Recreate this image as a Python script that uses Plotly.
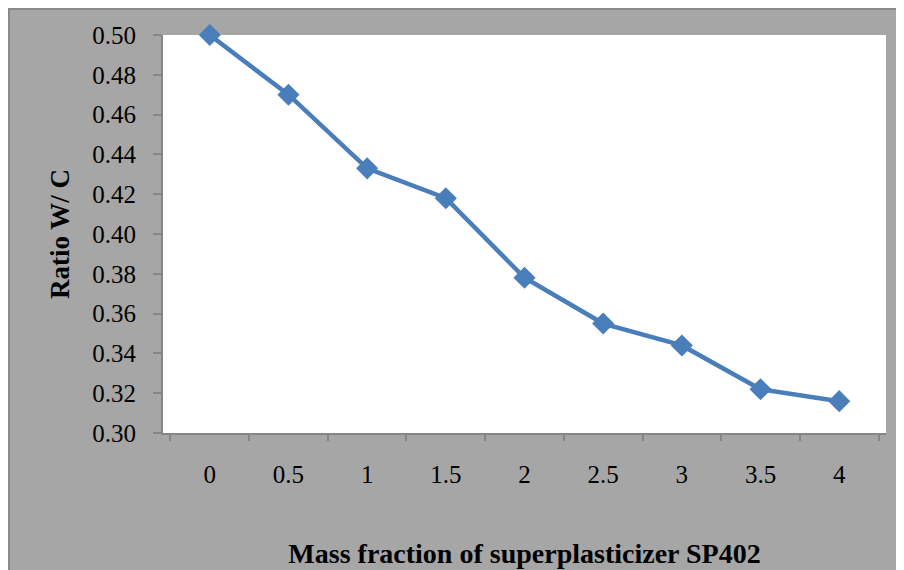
import plotly.graph_objects as go

# data
mass_fraction = ["0", "0.5", "1", "1.5", "2", "2.5", "3", "3.5", "4"]
ratio_wc = [0.500, 0.470, 0.433, 0.418, 0.378, 0.355, 0.344, 0.322, 0.316]
y_ticks = [0.30, 0.32, 0.34, 0.36, 0.38, 0.40, 0.42, 0.44, 0.46, 0.48, 0.50]

BG = "#a6a6a6"
AXIS = "#868686"
LINE = "#4a7ebb"
FONT = "Liberation Serif, Times New Roman, serif"

fig = go.Figure(go.Scatter(
    x=mass_fraction,
    y=ratio_wc,
    mode="lines+markers",
    line=dict(color=LINE, width=4.5),
    marker=dict(symbol="diamond", size=17, color=LINE),
    cliponaxis=False,
    showlegend=False,
))

# the page sits 8px in from the window edge; plot area 155..878 x 27..425 inside the figure
pw, ph = 723, 398
l, t = 155, 27
fig.add_shape(type="line", xref="paper", yref="paper",
              x0=(1 - l) / pw, x1=(1 - l) / pw, y0=-200 / ph, y1=(ph + t) / ph,
              line=dict(color="#8a8a8a", width=2))
fig.add_shape(type="line", xref="paper", yref="paper",
              x0=-l / pw, x1=800 / pw, y0=(ph + t - 1) / ph, y1=(ph + t - 1) / ph,
              line=dict(color="#8a8a8a", width=2))

fig.update_layout(
    width=904,
    height=570,
    margin=dict(l=l, r=904 - l - pw, t=t, b=570 - t - ph),
    paper_bgcolor=BG,
    plot_bgcolor="white",
    font=dict(family=FONT, size=25, color="black"),
    xaxis=dict(
        type="category",
        showline=True, linecolor=AXIS, linewidth=2,
        showgrid=False, zeroline=False,
        ticks="outside", tickson="boundaries", ticklen=6, tickcolor=AXIS, tickwidth=2,
        ticklabelstandoff=18,
        title=dict(text="<b>Mass fraction of superplasticizer SP402</b>",
                   font=dict(size=28), standoff=56),
    ),
    yaxis=dict(
        range=[0.30, 0.50],
        tickvals=y_ticks,
        tickformat=".2f",
        showline=True, linecolor=AXIS, linewidth=2,
        showgrid=False, zeroline=False,
        ticks="outside", ticklen=8, tickcolor=AXIS, tickwidth=2,
        ticklabelstandoff=12,
        title=dict(text="<b>Ratio W/ C</b>", font=dict(size=27), standoff=15),
    ),
)

fig.write_html("out.html")
